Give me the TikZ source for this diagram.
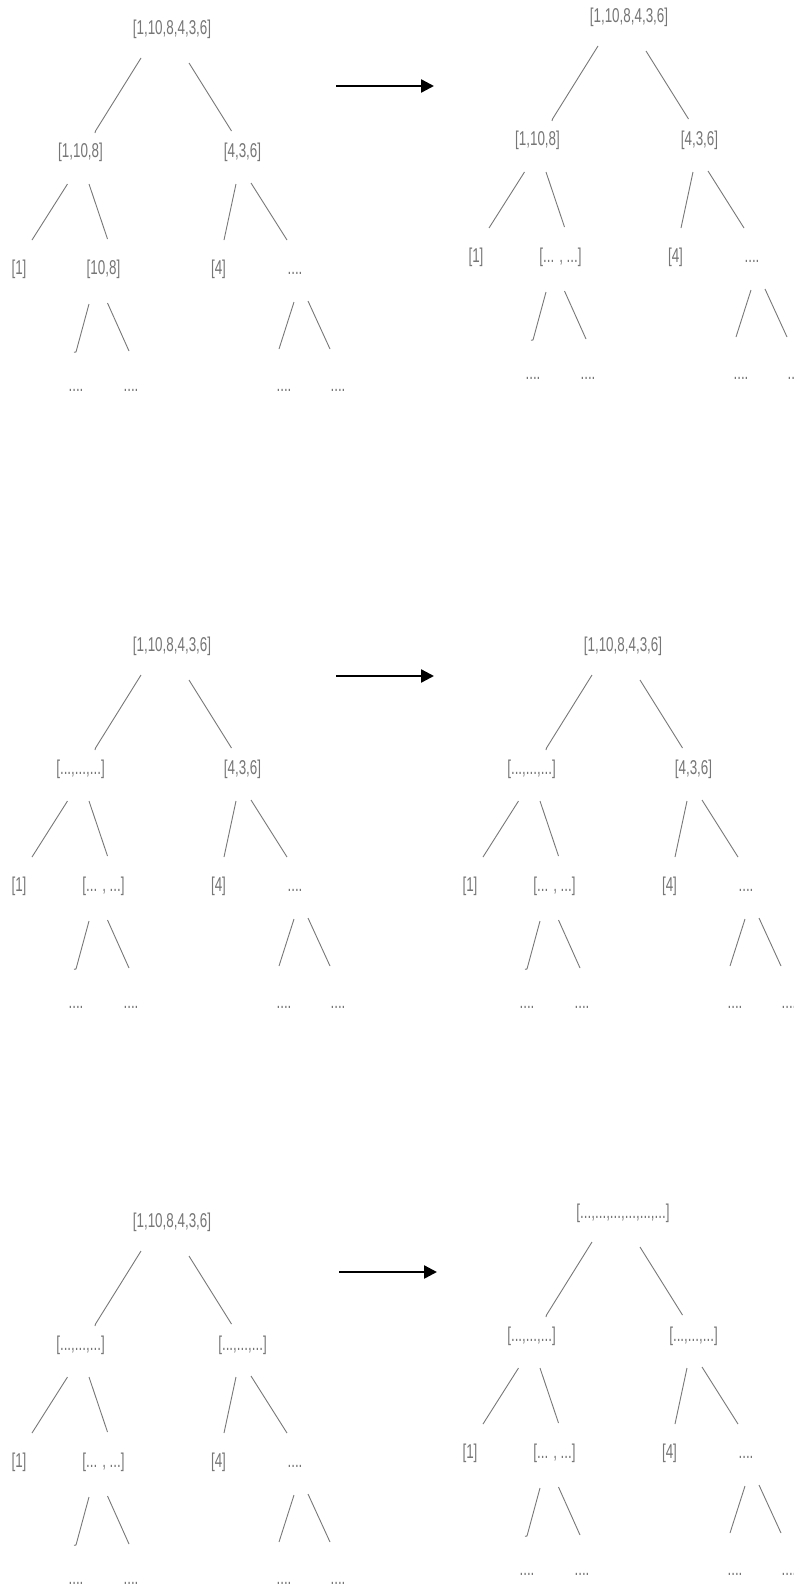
\documentclass[tikz,border=0pt]{standalone}
\usepackage{fontspec}
\setmainfont[FakeStretch=0.67]{Liberation Sans}
\usetikzlibrary{calc,arrows.meta}

\definecolor{txtgray}{RGB}{118,118,118}
\definecolor{linegray}{RGB}{120,120,120}

\tikzset{
  lbl/.style={text=txtgray, inner sep=0pt, text height=0.75em, text depth=0.25em,
              font=\fontsize{20}{24}\selectfont},
  edge/.style={draw=linegray, line width=0.9pt},
  stagearrow/.style={draw=black, line width=2.4pt, -{Triangle[length=13pt,width=13pt]}}
}

% One split tree: #1 name prefix, #2/#3 shift, #4 root, #5 left, #6 right, #7 left-right child
\newcommand\splittree[7]{%
\begin{scope}[shift={(#2,#3)}]
  \node[lbl] (#1r)   at (172,32)    {#4};
  \node[lbl] (#1l)   at (80.5,155)  {#5};
  \node[lbl] (#1rt)  at (242.5,155) {#6};
  \node[lbl] (#1ll)  at (19,271.5)  {[1]};
  \node[lbl] (#1lr)  at (103.5,271.5) {#7};
  \node[lbl] (#1rl)  at (218.5,271.5) {[4]};
  \node[lbl] (#1rr)  at (295,271.5) {....};
  \node[lbl] (#1lra) at (76,388.5)  {....};
  \node[lbl] (#1lrb) at (131,388.5) {....};
  \node[lbl] (#1rra) at (284,388.5) {....};
  \node[lbl] (#1rrb) at (338,388.5) {....};
  \draw[edge] ($(#1r)+(-31,26)$) -- ($(#1l)+(15,-24)$) -- ++(-0.5,2);
  \draw[edge] ($(#1r)+(17,31)$) -- ($(#1rt)+(-11,-24)$);
  \draw[edge] ($(#1l)+(-13,29)$) -- ($(#1ll)+(13,-31.5)$);
  \draw[edge] ($(#1l)+(8.5,29)$) -- ($(#1lr)+(4,-32.5)$);
  \draw[edge] ($(#1rt)+(-6.5,29)$) -- ($(#1rl)+(5.5,-31.5)$);
  \draw[edge] ($(#1rt)+(8.5,28)$) -- ($(#1rr)+(-8,-31.5)$);
  \draw[edge] ($(#1lr)+(-14.5,32.5)$) -- ($(#1lra)+(0,-36.5)$) -- ++(-2,0.3);
  \draw[edge] ($(#1lr)+(4,31.5)$) -- ($(#1lrb)+(-2,-37.5)$);
  \draw[edge] ($(#1rr)+(-1,30.5)$) -- ($(#1rra)+(-5,-39.5)$);
  \draw[edge] ($(#1rr)+(13,29.5)$) -- ($(#1rrb)+(-8,-39.5)$);
\end{scope}}

\begin{document}
\begin{tikzpicture}[x=1pt,y=-1pt]
  \useasboundingbox (0,0) rectangle (794,1590);
  \fill[white] (0,0) rectangle (794,1590);

  % first stage
  \splittree{a}{0}{0}{[1,10,8,4,3,6]}{[1,10,8]}{[4,3,6]}{[10,8]}
  \splittree{b}{457}{-12}{[1,10,8,4,3,6]}{[1,10,8]}{[4,3,6]}{[... , ...]}
  % second stage
  \splittree{c}{0}{617}{[1,10,8,4,3,6]}{[...,...,...]}{[4,3,6]}{[... , ...]}
  \splittree{d}{451}{617}{[1,10,8,4,3,6]}{[...,...,...]}{[4,3,6]}{[... , ...]}
  % third stage
  \splittree{e}{0}{1193}{[1,10,8,4,3,6]}{[...,...,...]}{[...,...,...]}{[... , ...]}
  \splittree{f}{451}{1184}{[...,...,...,...,...,...]}{[...,...,...]}{[...,...,...]}{[... , ...]}

  % stage arrows
  \coordinate (s1) at (336,86);   \coordinate (t1) at (434,86);
  \coordinate (s2) at (336,676);  \coordinate (t2) at (434,676);
  \coordinate (s3) at (339,1272); \coordinate (t3) at (437,1272);
  \draw[stagearrow] (s1) -- (t1);
  \draw[stagearrow] (s2) -- (t2);
  \draw[stagearrow] (s3) -- (t3);
\end{tikzpicture}
\end{document}
